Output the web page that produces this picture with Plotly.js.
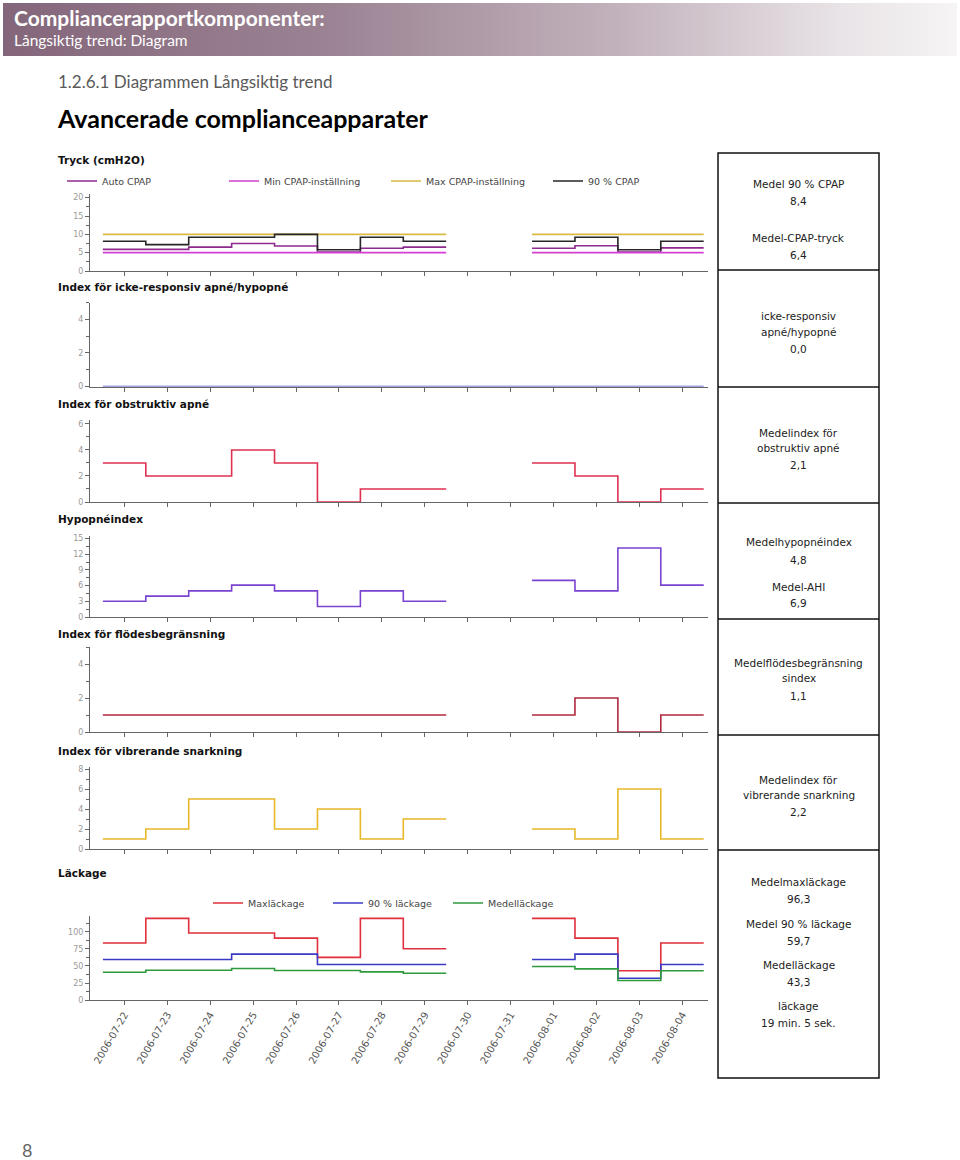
<!DOCTYPE html>
<html>
<head>
<meta charset="utf-8">
<script src="https://cdn.plot.ly/plotly-3.0.1.min.js"></script>
<style>
  html, body { margin:0; padding:0; background:#ffffff; }
  #wrap { position:relative; width:960px; height:1160px; overflow:hidden; }
  #band { position:absolute; left:3px; top:3px; width:954px; height:53px;
          background:linear-gradient(to right, #84667a 0%, #9c8494 35%, #c3b3bd 65%, #e9e4e7 88%, #f6f4f5 100%); }
  #chart { position:absolute; left:0; top:0; width:960px; height:1160px; }
</style>
</head>
<body>
<div id="wrap"><div id="band"></div><div id="chart"></div></div>
<script>
// ---- data ----
const dates = ['2006-07-22','2006-07-23','2006-07-24','2006-07-25','2006-07-26','2006-07-27','2006-07-28',
               '2006-07-29','2006-07-30','2006-07-31','2006-08-01','2006-08-02','2006-08-03','2006-08-04'];

const autoCpap = [5.9, 5.9, 6.5, 7.5, 6.8, 5.2, 6.2, 6.5, null, null, 6.2, 6.9, 5.2, 6.3];
const minCpap  = [5, 5, 5, 5, 5, 5, 5, 5, null, null, 5, 5, 5, 5];
const maxCpap  = [10, 10, 10, 10, 10, 10, 10, 10, null, null, 10, 10, 10, 10];
const cpap90   = [8.1, 7.2, 9.2, 9.2, 10, 5.8, 9.2, 8.1, null, null, 8.1, 9.2, 5.8, 8.1];

const nonResp  = [0, 0, 0, 0, 0, 0, 0, 0, 0, 0, 0, 0, 0, 0];
const obstr    = [3, 2, 2, 4, 3, 0, 1, 1, null, null, 3, 2, 0, 1];
const hypop    = [3, 4, 5, 6.1, 5, 2, 5, 3, null, null, 7, 5, 13.2, 6.1];
const flowLim  = [1, 1, 1, 1, 1, 1, 1, 1, null, null, 1, 2, 0, 1];
const snore    = [1, 2, 5, 5, 2, 4, 1, 3, null, null, 2, 1, 6, 1];

const leakMax  = [83.7, 120, 98.5, 98.5, 91, 62.6, 120, 75.4, null, null, 120, 91, 43, 83.7];
const leak90   = [59.6, 59.6, 59.6, 67.5, 67.5, 52.2, 52.2, 52.2, null, null, 59.6, 67.5, 32, 52.2];
const leakMean = [40.9, 43.8, 43.8, 46.3, 43.3, 43.3, 41.4, 39.4, null, null, 49.3, 45.8, 28.6, 42.9];

const panelTitles = ['Tryck (cmH2O)', 'Index för icke-responsiv apné/hypopné', 'Index för obstruktiv apné',
                     'Hypopnéindex', 'Index för flödesbegränsning', 'Index för vibrerande snarkning', 'Läckage'];

const summaryRows = [
  ['Medel 90 % CPAP', '8,4', 'Medel-CPAP-tryck', '6,4'],
  ['icke-responsiv', 'apné/hypopné', '0,0'],
  ['Medelindex för', 'obstruktiv apné', '2,1'],
  ['Medelhypopnéindex', '4,8', 'Medel-AHI', '6,9'],
  ['Medelflödesbegränsning', 'sindex', '1,1'],
  ['Medelindex för', 'vibrerande snarkning', '2,2'],
  ['Medelmaxläckage', '96,3', 'Medel 90 % läckage', '59,7', 'Medelläckage', '43,3', 'läckage', '19 min. 5 sek.']
];

// ---- layout helpers ----
const W = 960, H = 1160;
const px = x => x / W;
const py = y => 1 - y / H;
const FONT = 'DejaVu Sans, Verdana, sans-serif';

function steps(vals) {
  const x = [], y = [];
  vals.forEach((v, i) => {
    if (v === null) {
      if (x.length && x[x.length - 1] !== null) { x.push(null); y.push(null); }
    } else {
      x.push(i - 0.5, i + 0.5); y.push(v, v);
    }
  });
  return {x, y};
}

const panels = [
  {top:194,   bottom:271,   range:[0,21],    dtick:5,  minor:2.5,  titleY:160},
  {top:302.5, bottom:386.5, range:[0,5],     dtick:2,  minor:1,    titleY:287},
  {top:420,   bottom:502,   range:[0,6.3],   dtick:2,  minor:1,    titleY:404},
  {top:536,   bottom:617,   range:[0,15.5],  dtick:3,  minor:1.5,  titleY:519},
  {top:647,   bottom:732,   range:[0,5],     dtick:2,  minor:1,    titleY:634},
  {top:767,   bottom:849,   range:[0,8.2],   dtick:2,  minor:1,    titleY:751},
  {top:916,   bottom:1000,  range:[0,123.5], dtick:25, minor:12.5, titleY:873}
];

const seriesDefs = [
  {p:0, vals:autoCpap, name:'Auto CPAP',            color:'#8e2a8e', legend:'legend'},
  {p:0, vals:minCpap,  name:'Min CPAP-inställning', color:'#d23fd2', legend:'legend'},
  {p:0, vals:maxCpap,  name:'Max CPAP-inställning', color:'#d8bb44', legend:'legend'},
  {p:0, vals:cpap90,   name:'90 % CPAP',            color:'#262626', legend:'legend'},
  {p:1, vals:nonResp,  name:'icke-responsiv',       color:'#4545c8'},
  {p:2, vals:obstr,    name:'obstruktiv',           color:'#de3050'},
  {p:3, vals:hypop,    name:'hypopné',              color:'#7a42d0'},
  {p:4, vals:flowLim,  name:'flödesbegränsning',    color:'#b0283e'},
  {p:5, vals:snore,    name:'snarkning',            color:'#e8b828'},
  {p:6, vals:leakMax,  name:'Maxläckage',           color:'#e0303c', legend:'legend2'},
  {p:6, vals:leak90,   name:'90 % läckage',         color:'#3a3ac4', legend:'legend2'},
  {p:6, vals:leakMean, name:'Medelläckage',         color:'#2f9a3c', legend:'legend2'}
];

const traces = seriesDefs.map(s => {
  const st = steps(s.vals);
  const k = s.p === 0 ? '' : String(s.p + 1);
  return {
    type:'scatter', mode:'lines', x:st.x, y:st.y, name:s.name,
    xaxis:'x' + k, yaxis:'y' + k,
    line:{color:s.color, width:1.6},
    showlegend: !!s.legend, legend: s.legend || 'legend',
    hoverinfo:'skip'
  };
});

const layout = {
  width:W, height:H,
  margin:{l:0, r:0, t:0, b:0},
  paper_bgcolor:'rgba(0,0,0,0)',
  plot_bgcolor:'rgba(0,0,0,0)',
  showlegend:true,
  font:{family:FONT, color:'#333'},
  legend:{x:px(62), y:py(181), xanchor:'left', yanchor:'middle', orientation:'h',
          entrywidth:117, entrywidthmode:'pixels', itemwidth:30,
          font:{size:9.5, color:'#444', family:FONT}, bgcolor:'rgba(0,0,0,0)', traceorder:'normal'},
  legend2:{x:px(208), y:py(903), xanchor:'left', yanchor:'middle', orientation:'h',
          entrywidth:75, entrywidthmode:'pixels', itemwidth:30,
          font:{size:9.5, color:'#444', family:FONT}, bgcolor:'rgba(0,0,0,0)', traceorder:'normal'},
  annotations:[], shapes:[]
};

panels.forEach((p, i) => {
  const k = i === 0 ? '' : String(i + 1);
  const last = i === panels.length - 1;
  layout['xaxis' + k] = {
    domain:[px(90), px(708)], anchor:'y' + k, range:[-0.8, 13.6],
    tickmode:'array', tickvals:dates.map((d, j) => j), ticktext:dates,
    showticklabels:last, tickangle:-60, tickfont:{size:10, color:'#555', family:FONT},
    showline:true, linecolor:'#666', linewidth:1, ticks:'outside', ticklen:4, tickcolor:'#666',
    showgrid:false, zeroline:false, fixedrange:true
  };
  layout['yaxis' + k] = {
    domain:[py(p.bottom), py(p.top)], anchor:'x' + k, range:p.range,
    tickmode:'linear', tick0:0, dtick:p.dtick,
    minor:{dtick:p.minor, ticks:'outside', ticklen:3, tickcolor:'#666', showgrid:false},
    tickfont:{size:8, color:'#999', family:FONT},
    showline:true, linecolor:'#666', linewidth:1, ticks:'outside', ticklen:4, tickcolor:'#666',
    showgrid:false, zeroline:false, fixedrange:true
  };
  layout.annotations.push({
    xref:'paper', yref:'paper', x:px(56), y:py(p.titleY), xanchor:'left', yanchor:'middle',
    text:'<b>' + panelTitles[i] + '</b>', showarrow:false,
    font:{size:10.5, color:'#111', family:FONT}
  });
});

// header texts
const hdr = [
  {t:'<b>Compliancerapportkomponenter:</b>', x:12, y:18, s:21, c:'#ffffff'},
  {t:'Långsiktig trend: Diagram', x:12, y:40, s:15.5, c:'#ffffff'},
  {t:'1.2.6.1 Diagrammen Långsiktig trend', x:56, y:82, s:17, c:'#5a5a5a'},
  {t:'<b>Avancerade complianceapparater</b>', x:55, y:118, s:25, c:'#000000'},
  {t:'8', x:20, y:1150, s:18, c:'#666666'}
];
hdr.forEach(h => layout.annotations.push({
  xref:'paper', yref:'paper', x:px(h.x), y:py(h.y), xanchor:'left', yanchor:'middle',
  text:h.t, showarrow:false, font:{size:h.s, color:h.c, family:'Lato, Noto Sans, sans-serif'}
}));

// summary table on the right
const tblL = 718, tblR = 879;
const rowEdges = [153, 270, 387, 503, 619, 735, 850, 1078];
layout.shapes.push({type:'rect', xref:'paper', yref:'paper', x0:px(tblL), x1:px(tblR),
  y0:py(rowEdges[rowEdges.length - 1]), y1:py(rowEdges[0]), line:{color:'#111', width:1.5}, fillcolor:'rgba(0,0,0,0)'});
rowEdges.slice(1, -1).forEach(e => layout.shapes.push({type:'line', xref:'paper', yref:'paper',
  x0:px(tblL), x1:px(tblR), y0:py(e), y1:py(e), line:{color:'#111', width:1.5}}));

const rowTextY = [
  [184, 201, 238, 255],
  [316, 332, 349],
  [433, 448, 465],
  [542, 560, 587, 603],
  [663, 678, 696],
  [780, 795, 812],
  [882, 899, 924, 941, 965, 982, 1006, 1023]
];
summaryRows.forEach((row, r) => row.forEach((txt, j) => layout.annotations.push({
  xref:'paper', yref:'paper', x:px((tblL + tblR) / 2), y:py(rowTextY[r][j]), xanchor:'center', yanchor:'middle',
  text:txt, showarrow:false, font:{size:10.5, color:'#222', family:FONT}
})));

Plotly.newPlot('chart', traces, layout, {staticPlot:true, displayModeBar:false});
</script>
</body>
</html>
